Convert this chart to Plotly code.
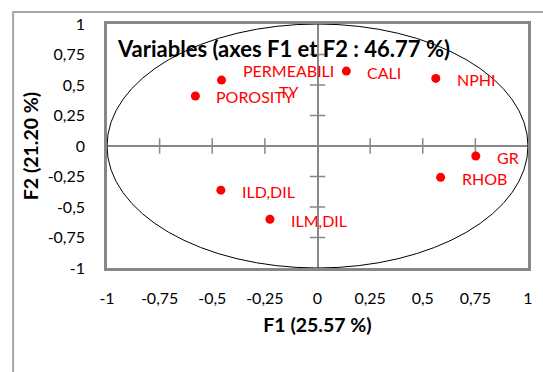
import plotly.graph_objects as go

# Data: correlations of variables with factors F1 and F2
variables = ["PERMEABILI<br>TY", "POROSITY", "CALI", "NPHI", "GR", "RHOB", "ILD,DIL", "ILM,DIL"]
f1 = [-0.456, -0.580, 0.137, 0.562, 0.752, 0.585, -0.459, -0.226]
f2 = [0.540, 0.410, 0.614, 0.554, -0.082, -0.257, -0.362, -0.600]

tick_vals = [-1, -0.75, -0.5, -0.25, 0, 0.25, 0.5, 0.75, 1]
tick_text = ["-1", "-0,75", "-0,5", "-0,25", "0", "0,25", "0,5", "0,75", "1"]
inner_ticks = [-0.75, -0.5, -0.25, 0.25, 0.5, 0.75]

FONT = "Lato"
GREY = "#878787"

fig = go.Figure()

# cross tick marks on zero axes
fig.add_trace(go.Scatter(
    x=inner_ticks, y=[0] * len(inner_ticks), mode="markers",
    marker=dict(symbol="line-ns-open", size=11, color=GREY, line=dict(color=GREY, width=1.5)),
    hoverinfo="skip", showlegend=False))
fig.add_trace(go.Scatter(
    x=[0] * len(inner_ticks), y=inner_ticks, mode="markers",
    marker=dict(symbol="line-ew-open", size=11, color=GREY, line=dict(color=GREY, width=1.5)),
    hoverinfo="skip", showlegend=False))

# variable points
fig.add_trace(go.Scatter(
    x=f1, y=f2, mode="markers",
    marker=dict(color="#ff0000", size=9),
    showlegend=False))

for name, xv, yv in zip(variables, f1, f2):
    fig.add_annotation(
        x=xv, y=yv, xref="x", yref="y", text=name, showarrow=False,
        xanchor="left", yanchor="middle", xshift=19, yshift=-1, align="center",
        font=dict(family=FONT, size=16, color="#ff0000"))

# correlation circle
fig.add_shape(type="circle", xref="x", yref="y", x0=-1, y0=-1, x1=1, y1=1,
              line=dict(color="#000000", width=1), layer="above")

# outer chart border (extends beyond the visible page)
fig.add_shape(type="path", xref="paper", yref="paper",
              path="M -0.223 -0.6 L -0.223 1.049 L 1.1 1.049",
              line=dict(color="#a6a6a6", width=2))

# title inside plot area
fig.add_annotation(
    x=0.02, y=0.90, xref="paper", yref="paper", xanchor="left", yanchor="middle",
    text="<b>Variables (axes F1 et F2 : 46.77 %)</b>", showarrow=False,
    font=dict(family=FONT, size=22, color="#000000"))

axis_common = dict(
    range=[-1, 1], tickvals=tick_vals, ticktext=tick_text,
    showgrid=False, zeroline=True, zerolinecolor=GREY, zerolinewidth=1.5,
    showline=True, mirror=True, linecolor=GREY, linewidth=2.5,
    ticks="", tickfont=dict(family=FONT, size=16, color="#000000"),
)

fig.update_layout(
    width=543, height=372,
    margin=dict(l=107, r=10, t=24, b=104),
    paper_bgcolor="white", plot_bgcolor="white",
    xaxis=dict(**axis_common, ticklabelstandoff=14,
               title=dict(text="<b>F1 (25.57 %)</b>", standoff=13,
                          font=dict(family=FONT, size=19.5, color="#000000"))),
    yaxis=dict(**axis_common, ticklabelstandoff=16,
               title=dict(text="<b>F2 (21.20 %)</b>", standoff=4,
                          font=dict(family=FONT, size=19.5, color="#000000"))),
)

fig.write_html("out.html")
